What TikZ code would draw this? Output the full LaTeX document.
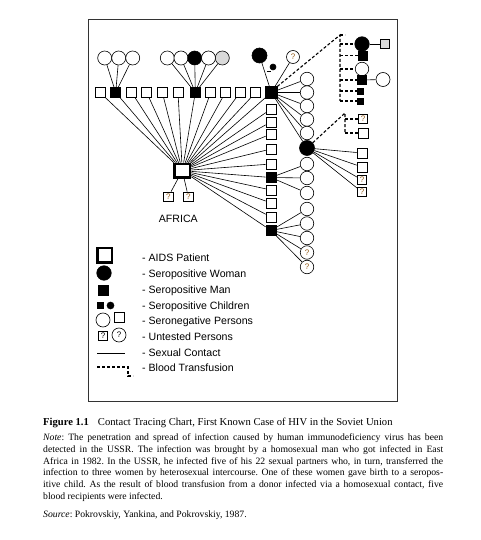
\documentclass[tikz,border=0pt]{standalone}
\usepackage{fontspec}
\setmainfont{Liberation Serif}
\newfontfamily\labfont{Liberation Sans}
\usepackage{tikz}
\usetikzlibrary{arrows.meta,positioning,calc}
\definecolor{qcol}{RGB}{150,95,30}
\newcommand\qsize{\labfont\fontsize{8}{8}\selectfont}
\newcommand\keysize{\labfont\fontsize{10.6}{12}\selectfont}
\newcommand\capsize{\frenchspacing\fontsize{9.7}{11.6}\selectfont}
\newcommand\titlesize{\fontsize{10.6}{12}\selectfont}
\tikzset{
  man/.style={draw, fill=white, minimum size=10pt, inner sep=0pt, line width=0.6pt},
  posman/.style={man, fill=black},
  woman/.style={circle, draw, fill=white, minimum size=14pt, inner sep=0pt, line width=0.6pt},
  poswoman/.style={woman, fill=black},
  qman/.style={man, minimum size=9pt, font=\qsize, text=qcol},
  qwoman/.style={woman, font=\qsize, text=qcol},
  aids/.style={draw, fill=white, line width=2.5pt, minimum width=15.5pt, minimum height=13.5pt, inner sep=0pt},
  sex/.style={line width=0.6pt},
  blood/.style={line width=1.1pt, dash pattern=on 3pt off 2pt},
  keytext/.style={anchor=base west, inner sep=0pt, font=\keysize},
  captext/.style={anchor=base west, inner sep=0pt, font=\capsize}
}
\begin{document}
\begin{tikzpicture}[x=1pt, y=-1pt]
  \useasboundingbox (0,0) rectangle (481,540);
  % Frame
  \draw[line width=0.8pt, black!80] (88,19) rectangle (397,401);

  % Africa patient
  \node[aids] (af) at (182.3,170.7) {};
  \node[qman, minimum size=9.5pt] (u1) at (168.3,196.7) {?};
  \node[qman, minimum size=9.5pt] (u2) at (188.3,196.7) {?};
  \draw[sex] (af) -- (u1);
  \draw[sex] (af) -- (u2);
  \node[font=\keysize, anchor=base, inner sep=0pt] (africa) at (178.3,222) {AFRICA};

  % Top row of partners
  \foreach \x/\s [count=\i] in {100/man, 115.7/posman, 131.7/man, 146.7/man, 162.3/man,
      178/man, 195.3/posman, 210.7/man, 225.3/man, 240/man, 255.7/man}{
    \node[\s] (t\i) at (\x,92.5) {};
  }
  \node[posman, minimum size=11.5pt] (t12) at (271.3,92.5) {};
  % Column of partners
  \foreach \y/\s [count=\i] in {109/man, 122/man, 134/man, 149/man, 164/man,
      177.5/posman, 190/man, 203/man, 217/man, 230.5/posman}{
    \node[\s] (s\i) at (271,\y) {};
  }
  \foreach \i in {1,...,12} \draw[sex] (af) -- (t\i);
  \foreach \i in {1,...,10} \draw[sex] (af) -- (s\i);

  % Women above the top row
  \foreach \x [count=\i] in {104.7,118.7,132.7}{
    \node[woman] (a\i) at (\x,58) {};
    \draw[sex] (a\i) -- (t2);
  }
  \foreach \x/\c [count=\i] in {167.3/white, 181/white, 194.7/black, 208.5/white, 222.3/black!15}{
    \node[woman, fill=\c] (b\i) at (\x,58) {};
    \draw[sex] (b\i) -- (t7);
  }
  \node[poswoman, minimum size=15pt] (w1) at (259.5,55.5) {};
  \node[poswoman, minimum size=6pt] (k1) at (273,67) {};
  \draw[sex] (266.5,71) -- (271,71);
  \node[qwoman, minimum size=13pt] (q1) at (293,57) {?};
  \draw[sex] (w1) -- (t12);
  \draw[sex] (q1) -- (t12);

  % Column of women
  \foreach \y [count=\i] in {79,92.5,106,119.5,133}{
    \node[woman, minimum size=13.5pt] (r\i) at (307,\y) {};
    \draw[sex] (t12) -- (r\i);
  }
  \node[poswoman, minimum size=15pt] (rw) at (307,148) {};
  \draw[sex] (t12) -- (rw);
  \foreach \y [count=\i from 6] in {164,178,193,209,223.5,238}{
    \node[woman, minimum size=13.5pt] (r\i) at (307,\y) {};
  }
  \foreach \y [count=\i from 12] in {252.5,267}{
    \node[qwoman, minimum size=13.5pt] (r\i) at (307,\y) {?};
  }
  \foreach \i in {6,7,8} \draw[sex] (s6) -- (r\i);
  \foreach \i in {9,...,13} \draw[sex] (s10) -- (r\i);

  % Partners of the seropositive woman
  \node[man] (p1) at (362,153) {};
  \node[man] (p2) at (362,167) {};
  \node[qman] (p3) at (362,180) {?};
  \node[qman] (p4) at (362,192) {?};
  \foreach \i in {1,...,4} \draw[sex] (rw) -- (p\i);

  % Blood recipients (upper group)
  \coordinate (tA) at (340,35);
  \node[poswoman, minimum size=14.5pt] (d1) at (362,44) {};
  \node[posman, minimum size=9pt] (d2) at (362.5,55.5) {};
  \node[woman, minimum size=13.5pt] (d3) at (362,69) {};
  \node[posman, minimum size=9.5pt] (d4) at (362,80) {};
  \node[posman, minimum size=6pt] (d5) at (360,91) {};
  \node[posman, minimum size=6pt] (d6) at (360,101) {};
  \node[man, fill=black!15, minimum size=9.5pt] (g1) at (385,44) {};
  \node[woman] (g2) at (383,79.5) {};
  \draw[sex] (d1) -- (g1);
  \draw[sex] (d4) -- (g2);
  \draw[blood] (t12.north east) -- (tA) -- (tA |- d6);
  \draw[blood] (tA) -- ([xshift=5pt]tA);
  \foreach \i in {1,...,6} \draw[blood] (tA |- d\i) -- (d\i.west);

  % Blood recipients (lower group)
  \coordinate (tB) at (345,113);
  \node[qman] (e1) at (363,119) {?};
  \node[man] (e2) at (363,133) {};
  \draw[blood] (rw) -- (tB) -- (tB |- e2);
  \draw[blood] (tB |- e1) -- (e1.west);
  \draw[blood] (tB |- e2) -- (e2.west);

  % Legend
  \node[aids, minimum width=14.5pt, minimum height=14.5pt] (lg1) at (104.5,255) {};
  \node[poswoman, minimum size=14.5pt] (lg2) at (104,273) {};
  \node[posman] (lg3) at (103,290) {};
  \node[posman, minimum size=6pt] (lg4) at (100.5,305) {};
  \node[poswoman, minimum size=7pt] (lg4b) at (110.5,305.5) {};
  \node[woman] (lg5) at (103,320) {};
  \node[man] (lg5b) at (119,317) {};
  \node[qman, text=black] (lg6) at (103,336) {?};
  \node[qwoman, text=black] (lg6b) at (119,335) {?};
  \coordinate (lg7a) at (97,353);
  \coordinate (lg7b) at (125,353);
  \draw[sex] (lg7a) -- (lg7b);
  \coordinate (lg8a) at (97,367);
  \coordinate (lg8b) at (128,367);
  \draw[blood] (lg8a) -- (lg8b) -- ++(0,9) -- ++(5,0);
  \foreach \y/\txt [count=\i] in {261/AIDS Patient, 277.3/Seropositive Woman,
      293.3/Seropositive Man, 309.3/Seropositive Children, 324.7/Seronegative Persons,
      340.7/Untested Persons, 356.3/Sexual Contact, 371.7/Blood Transfusion}{
    \node[keytext] (key\i) at (142,\y) {- \txt};
  }

  % Caption
  \node[captext, font=\titlesize] (title) at (43,425)
    {\textbf{Figure 1.1}\hspace{9pt}Contact Tracing Chart, First Known Case of HIV in the Soviet Union};
  \foreach \txt [count=\i, evaluate=\i as \y using 440.7+11.72*(\i-1)] in {
      {\textit{Note}: The penetration and spread of infection caused by human immunodeficiency virus has been},
      {detected in the USSR. The infection was brought by a homosexual man who got infected in East},
      {Africa in 1982. In the USSR, he infected five of his 22 sexual partners who, in turn, transferred the},
      {infection to three women by heterosexual intercourse. One of these women gave birth to a seropos-},
      {itive child. As the result of blood transfusion from a donor infected via a homosexual contact, five}}{
    \node[captext] (note\i) at (43,\y) {\makebox[400pt][s]{\txt}};
  }
  \node[captext] (note6) at (43,499.3) {blood recipients were infected.};
  \node[captext] (source) at (43,517.3) {\textit{Source}: Pokrovskiy, Yankina, and Pokrovskiy, 1987.};
\end{tikzpicture}
\end{document}
